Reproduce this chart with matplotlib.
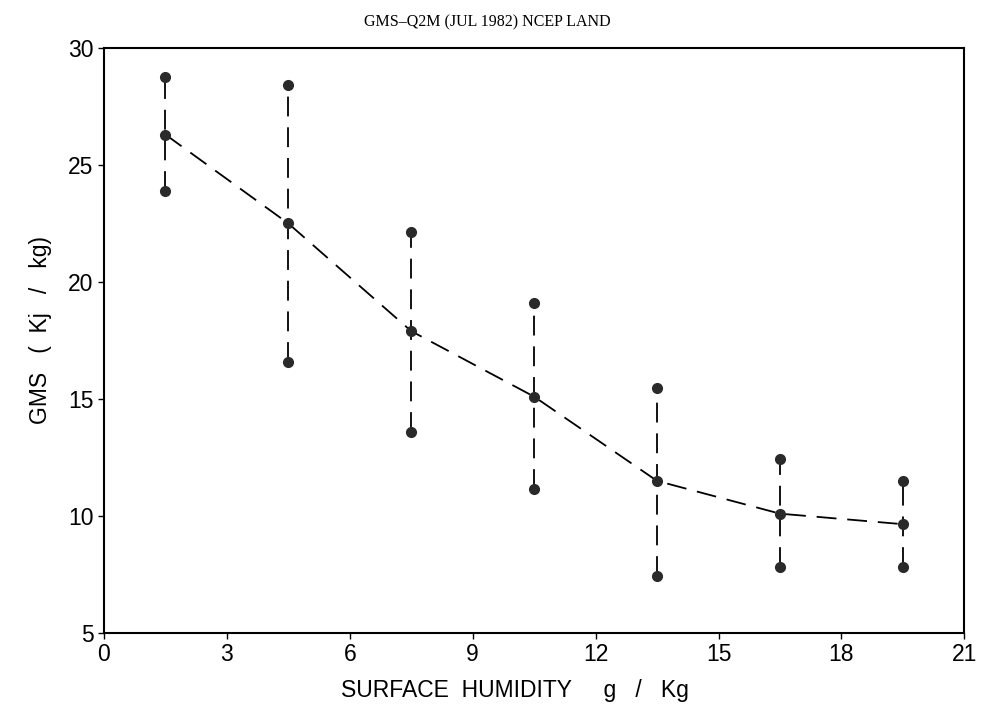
import matplotlib
matplotlib.use('Agg')
import matplotlib.pyplot as plt

# surface humidity bins (g/kg)
humidity = [1.5, 4.5, 7.5, 10.5, 13.5, 16.5, 19.5]
gms_mean = [26.3, 22.5, 17.9, 15.1, 11.5, 10.1, 9.65]
gms_upper = [28.75, 28.4, 22.15, 19.1, 15.45, 12.45, 11.5]
gms_lower = [23.9, 16.6, 13.6, 11.15, 7.45, 7.8, 7.8]

xticks = [0, 3, 6, 9, 12, 15, 18, 21]
yticks = [5, 10, 15, 20, 25, 30]

plt.rcParams['font.family'] = ['Liberation Sans', 'DejaVu Sans']

fig = plt.figure(figsize=(9.81, 7.11), dpi=100)
ax = fig.add_axes([0.106, 0.1097, 0.877, 0.8228])

dot = '#2a2a2a'
ax.vlines(humidity, gms_lower, gms_upper, colors='black', linewidth=1.3,
          linestyles=(0, (11, 6)))
ax.plot(humidity, gms_mean, color='black', linewidth=1.3, dashes=(11, 6))
ax.plot(humidity, gms_mean, 'o', color=dot, markersize=7, linestyle='none')
ax.plot(humidity, gms_upper, 'o', color=dot, markersize=7, linestyle='none')
ax.plot(humidity, gms_lower, 'o', color=dot, markersize=7, linestyle='none')

ax.set_xlim(0, 21)
ax.set_ylim(5, 30)
ax.set_xticks(xticks)
ax.set_yticks(yticks)
ax.tick_params(labelsize=16.5, length=4, width=1, direction='out')
for s in ax.spines.values():
    s.set_linewidth(1.5)

ax.set_xlabel('SURFACE  HUMIDITY     g   /   Kg', fontsize=16.5, va='center')
ax.xaxis.set_label_coords(0.478, -0.0975)
ax.set_ylabel('GMS   (  Kj   /   kg)', fontsize=16.5, va='center')
ax.yaxis.set_label_coords(-0.074, 0.518)
fig.text(0.497, 0.969, 'GMS\u2013Q2M (JUL 1982) NCEP LAND', ha='center', va='center',
         fontsize=11.5, family=['Liberation Serif', 'DejaVu Serif'])

fig.savefig('out.png', dpi=100)
